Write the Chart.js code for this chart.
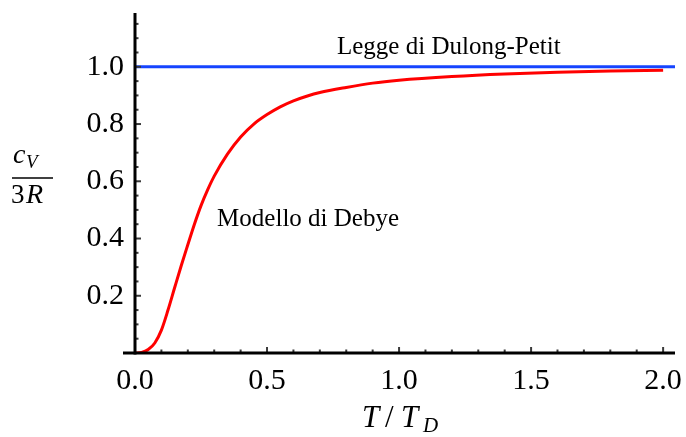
<!DOCTYPE html>
<html>
<head>
<meta charset="utf-8">
<script src="https://cdn.jsdelivr.net/npm/chart.js@4.4.1/dist/chart.umd.min.js"></script>
<style>
  body{margin:0;background:#fff;}
</style>
</head>
<body>
<canvas id="debyeChart" width="686" height="437"></canvas>
<script>
// values
const tRatio=[0,0.025,0.05,0.075,0.1,0.125,0.15,0.175,0.2,0.225,0.25,0.275,0.3,0.35,0.4,0.45,0.5,0.55,0.6,0.65,0.7,0.8,0.9,1.0,1.2,1.4,1.6,1.8,2.0];
const debyeCv=[0,0.002,0.012,0.035,0.08,0.15,0.228,0.305,0.378,0.45,0.515,0.57,0.618,0.695,0.755,0.80,0.833,0.86,0.881,0.897,0.91,0.928,0.943,0.953,0.966,0.975,0.981,0.985,0.988];
const dulongT=[0,2.045];
const dulongCv=[1,1];
const xTickValues=[0,0.5,1,1.5,2];
const yTickValues=[0.2,0.4,0.6,0.8,1.0];
const xRange=[0,2.045];
const yRange=[0,1.188];

const serif="'Liberation Serif', 'DejaVu Serif', serif";

function toPoints(xs,ys){
  return xs.map((x,i)=>({x:x,y:ys[i]}));
}

// Mathematica-style axes: thick lines, inward ticks, titles and labels
const axesPlugin={
  id:'axesPlugin',
  afterDatasetsDraw(chart){
    const ctx=chart.ctx;
    const xs=chart.scales.x, ys=chart.scales.y;
    const area=chart.chartArea;
    const x0=xs.getPixelForValue(0), y0=ys.getPixelForValue(0);
    ctx.save();

    // minor / major ticks, pointing inside
    ctx.strokeStyle="#3a3a3a";
    ctx.lineWidth=2;
    for(let k=1;k<=20;k++){
      const px=xs.getPixelForValue(k*0.1);
      const len=(k%5===0)?6:3.5;
      ctx.beginPath();ctx.moveTo(px,y0);ctx.lineTo(px,y0-len);ctx.stroke();
    }
    for(let k=1;k<=23;k++){
      const py=ys.getPixelForValue(k*0.05);
      const len=(k%4===0)?6:3.5;
      ctx.beginPath();ctx.moveTo(x0,py);ctx.lineTo(x0+len,py);ctx.stroke();
    }

    // axis lines
    ctx.strokeStyle="#000";
    ctx.lineWidth=3;
    ctx.beginPath();ctx.moveTo(x0-12,y0);ctx.lineTo(area.right,y0);ctx.stroke();
    ctx.beginPath();ctx.moveTo(x0,area.top);ctx.lineTo(x0,y0+1.5);ctx.stroke();

    // annotations
    ctx.fillStyle="#000";
    ctx.textAlign="left";
    ctx.textBaseline="alphabetic";
    ctx.font="25px "+serif;
    ctx.fillText("Legge di Dulong-Petit",xs.getPixelForValue(0.765),ys.getPixelForValue(1.045));
    ctx.fillText("Modello di Debye",xs.getPixelForValue(0.311),ys.getPixelForValue(0.443));

    // x title  T/T_D
    const cx=(area.left+area.right)/2-43;
    ctx.font="italic 31px "+serif;
    ctx.fillText("T",cx,427);
    ctx.font="31px "+serif;
    ctx.fillText("/",cx+23,427);
    ctx.font="italic 31px "+serif;
    ctx.fillText("T",cx+39,427);
    ctx.font="italic 21px "+serif;
    ctx.fillText("D",cx+61,432);

    // y title  c_V / 3R
    ctx.font="italic 28px "+serif;
    ctx.fillText("c",13,163);
    ctx.font="italic 19px "+serif;
    ctx.fillText("V",26,168);
    ctx.lineWidth=1.3;
    ctx.beginPath();ctx.moveTo(12,178);ctx.lineTo(53,178);ctx.stroke();
    ctx.font="27px "+serif;
    ctx.fillText("3",11,203);
    ctx.font="italic 28px "+serif;
    ctx.fillText("R",26,203);

    ctx.restore();
  }
};

const debyeChart=document.getElementById("debyeChart");

new Chart(debyeChart,{
  type:'line',
  data:{
    datasets:[{
      label:'Legge di Dulong-Petit',
      data:toPoints(dulongT,dulongCv),
      borderColor:"rgb(22,68,255)",
      borderWidth:3,
      pointRadius:0,
      tension:0
    },{
      label:'Modello di Debye',
      data:toPoints(tRatio,debyeCv),
      borderColor:"#ff0000",
      borderWidth:3,
      pointRadius:0,
      cubicInterpolationMode:'monotone'
    }]
  },
  options:{
    responsive:false,
    animation:false,
    devicePixelRatio:1,
    layout:{padding:{top:13,right:11,left:0,bottom:0}},
    plugins:{legend:{display:false},tooltip:{enabled:false}},
    scales:{
      x:{
        type:'linear',
        min:xRange[0],
        max:xRange[1],
        grid:{display:false,drawTicks:false},
        border:{display:false},
        afterBuildTicks:(scale)=>{scale.ticks=xTickValues.map(v=>({value:v}));},
        afterFit:(scale)=>{scale.height=84;scale.paddingLeft=0;scale.paddingRight=0;},
        ticks:{
          padding:10,
          color:"#000",
          font:{family:serif,size:30},
          maxRotation:0,
          callback:(v)=>v.toFixed(1)
        }
      },
      y:{
        type:'linear',
        min:yRange[0],
        max:yRange[1],
        grid:{display:false,drawTicks:false},
        border:{display:false},
        afterBuildTicks:(scale)=>{scale.ticks=yTickValues.map(v=>({value:v}));},
        afterFit:(scale)=>{scale.width=135;scale.paddingTop=0;scale.paddingBottom=0;},
        ticks:{
          padding:11,
          color:"#000",
          font:{family:serif,size:30},
          callback:(v)=>v.toFixed(1)
        }
      }
    }
  },
  plugins:[axesPlugin]
});
</script>
</body>
</html>
